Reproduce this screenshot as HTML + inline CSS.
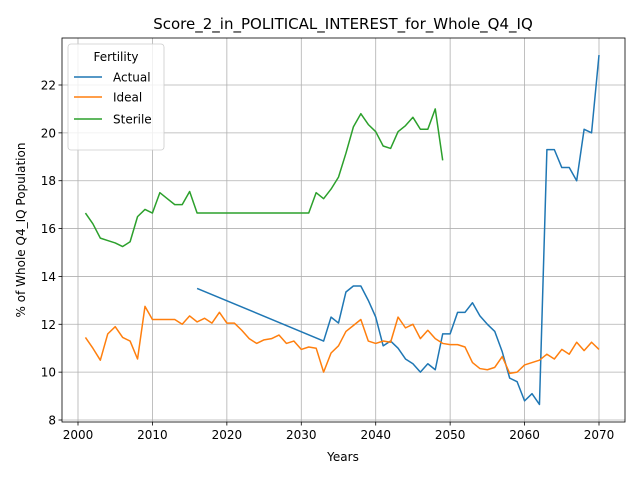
<!DOCTYPE html>
<html><head><meta charset="utf-8"><style>
body{margin:0;background:#fff;}
svg{display:block;font-family:"DejaVu Sans","Liberation Sans",sans-serif;}
</style></head><body>
<svg id="chart" width="640" height="480"></svg>
<script>
const years=[];for(let y=2001;y<=2070;y++)years.push(y);
const actualYears=[2016,2033,2034,2035,2036,2037,2038,2039,2040,2041,2042,2043,2044,2045,2046,2047,2048,2049,2050,2051,2052,2053,2054,2055,2056,2057,2058,2059,2060,2061,2062,2063,2064,2065,2066,2067,2068,2069,2070];
const actualValues=[13.5,11.3,12.3,12.05,13.35,13.6,13.6,13.0,12.3,11.1,11.3,11.0,10.55,10.35,10.0,10.35,10.1,11.6,11.6,12.5,12.5,12.9,12.35,12.0,11.7,10.85,9.75,9.6,8.8,9.1,8.65,19.3,19.3,18.55,18.55,18.0,20.15,20.0,23.25];
const idealValues=[11.45,11.0,10.5,11.6,11.9,11.45,11.3,10.55,12.75,12.2,12.2,12.2,12.2,12.0,12.35,12.1,12.25,12.05,12.5,12.05,12.05,11.75,11.4,11.2,11.35,11.4,11.55,11.2,11.3,10.95,11.05,11.0,10.0,10.8,11.1,11.7,11.95,12.2,11.3,11.2,11.3,11.25,12.3,11.85,12.0,11.4,11.75,11.4,11.2,11.15,11.15,11.05,10.4,10.15,10.1,10.2,10.65,9.95,10.0,10.3,10.4,10.5,10.75,10.55,10.95,10.75,11.25,10.9,11.25,10.95];
const sterileYears=[];for(let y=2001;y<=2049;y++)sterileYears.push(y);
const sterileValues=[16.65,16.2,15.6,15.5,15.4,15.25,15.45,16.5,16.8,16.65,17.5,17.25,17.0,17.0,17.55,16.65,16.65,16.65,16.65,16.65,16.65,16.65,16.65,16.65,16.65,16.65,16.65,16.65,16.65,16.65,16.65,17.5,17.25,17.65,18.15,19.15,20.25,20.8,20.35,20.05,19.45,19.35,20.05,20.3,20.65,20.15,20.15,21.0,18.85];
const xTicks=[2000,2010,2020,2030,2040,2050,2060,2070];
const yTicks=[8,10,12,14,16,18,20,22];

const NS="http://www.w3.org/2000/svg";
const svg=document.getElementById('chart');
const L=62,R=625,T=38,B=422;
const xs=v=>78+(v-2000)*(599-78)/70;
const ys=v=>420-(v-8)*(420-85)/14;
function mk(tag,attrs,parent){const e=document.createElementNS(NS,tag);for(const k in attrs)e.setAttribute(k,attrs[k]);(parent||svg).appendChild(e);return e;}

const grid=mk('g',{});


xTicks.forEach(t=>{
  mk('line',{x1:xs(t),x2:xs(t),y1:T,y2:B,stroke:'#b0b0b0','stroke-width':0.8},grid);
  mk('line',{x1:xs(t),x2:xs(t),y1:B,y2:B+3.5,stroke:'#000','stroke-width':0.8});
  const tx=mk('text',{x:xs(t),y:B+17,'font-size':12,'text-anchor':'middle'});
  tx.textContent=t;
  
  
});
yTicks.forEach(t=>{
  mk('line',{x1:L,x2:R,y1:ys(t),y2:ys(t),stroke:'#b0b0b0','stroke-width':0.8},grid);
  mk('line',{x1:L-3.5,x2:L,y1:ys(t),y2:ys(t),stroke:'#000','stroke-width':0.8});
  const tx=mk('text',{x:L-6,y:ys(t)+4.5,'font-size':12,'text-anchor':'end'});
  tx.textContent=t;
  
  
});
function line(xsArr,vals,color,name){
  const p=mk('polyline',{points:xsArr.map((x,i)=>xs(x)+','+ys(vals[i])).join(' '),fill:'none',stroke:color,'stroke-width':1.5,'stroke-linejoin':'round'});
  
  
}
line(actualYears,actualValues,'#1f77b4','actual-line');
line(years,idealValues,'#ff7f0e','ideal-line');
line(sterileYears,sterileValues,'#2ca02c','sterile-line');
const frame=mk('rect',{x:L,y:T,width:R-L,height:B-T,fill:'none',stroke:'#000','stroke-width':0.8});


</script>
<svg width="640" height="480" style="position:absolute;left:0;top:0">
<text x="343" y="29" font-size="15" text-anchor="middle">Score_2_in_POLITICAL_INTEREST_for_Whole_Q4_IQ</text>
<text x="343" y="461" font-size="12" text-anchor="middle">Years</text>
<text x="25" y="230" font-size="12" text-anchor="middle" transform="rotate(-90 25 230)">% of Whole Q4_IQ Population</text>
<g>
<rect x="68" y="44" width="96" height="106" rx="3" fill="#fff" fill-opacity="0.8" stroke="#ccc" stroke-width="0.8"/>
<text x="116" y="61" font-size="12" text-anchor="middle">Fertility</text>
<g><line x1="74" x2="102" y1="77" y2="77" stroke="#1f77b4" stroke-width="1.5"/><text x="113" y="81.5" font-size="12">Actual</text></g>
<g><line x1="74" x2="102" y1="97" y2="97" stroke="#ff7f0e" stroke-width="1.5"/><text x="113" y="101.5" font-size="12">Ideal</text></g>
<g><line x1="74" x2="102" y1="119" y2="119" stroke="#2ca02c" stroke-width="1.5"/><text x="113" y="123.5" font-size="12">Sterile</text></g>
</g>
</svg>
</body></html>
